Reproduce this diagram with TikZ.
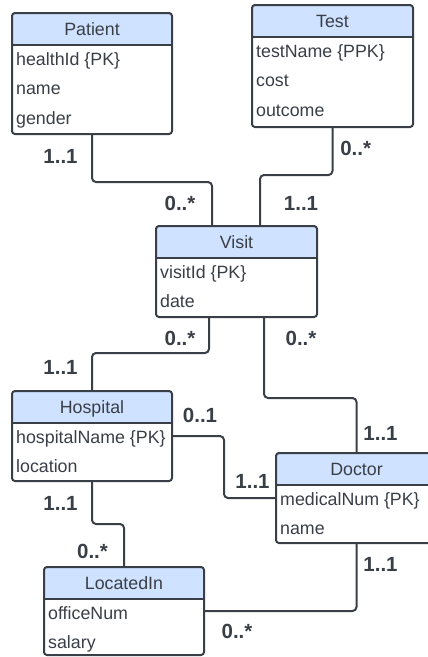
\documentclass[tikz,border=0pt]{standalone}
\usepackage{fontspec}
\setmainfont{Liberation Sans}
\usepackage{tikz}
\usetikzlibrary{positioning,calc}
\definecolor{ink}{HTML}{3A3F47}
\definecolor{headc}{HTML}{CFE2FF}
\tikzset{
  ent/.style={minimum width=160pt,inner sep=0pt,outer sep=0pt,fill=white,anchor=north},
  attr/.style={font=\fontsize{17.8}{20}\selectfont,text=ink,inner sep=0pt,anchor=base west},
  ttl/.style={font=\fontsize{17.8}{20}\selectfont,text=ink,inner sep=0pt,anchor=base},
  card/.style={font=\fontsize{20.5}{22}\selectfont\bfseries,text=ink,inner sep=0pt,anchor=base},
  conn/.style={draw=ink,line width=2pt,rounded corners=4pt},
  frame/.style={draw=ink,line width=2pt,rounded corners=3pt},
}
\begin{document}
\begin{tikzpicture}[x=1pt,y=-1pt]
  \useasboundingbox (0,0) rectangle (428,657);
  \node[ent,minimum height=121pt] (pat) at (92,13) {};
  \node[ent,minimum height=122pt,minimum width=161pt] (tst) at (332.5,5) {};
  \node[ent,minimum height=91pt,minimum width=161pt] (vis) at (236.5,226) {};
  \node[ent,minimum height=90pt] (hos) at (92,391) {};
  \node[ent,minimum height=90pt,minimum width=161pt] (doc) at (356.5,453) {};
  \node[ent,minimum height=88pt] (loc) at (124,567) {};
  \foreach \n in {pat,tst,vis,hos,doc,loc}{
    \begin{scope}
      \clip[rounded corners=3pt] (\n.north west) rectangle (\n.south east);
      \fill[headc] (\n.north west) rectangle ([yshift=-31.5pt]\n.north east);
    \end{scope}
    \draw[frame] (\n.north west) rectangle (\n.south east);
    \draw[draw=ink,line width=2pt] ([yshift=-31.5pt]\n.north west) -- ([yshift=-31.5pt]\n.north east);
  }
  \node[ttl] (pat-t) at ([yshift=-22pt]pat.north) {Patient};
  \node[ttl] (tst-t) at ([yshift=-22pt]tst.north) {Test};
  \node[ttl] (vis-t) at ([yshift=-22pt]vis.north) {Visit};
  \node[ttl] (hos-t) at ([yshift=-22pt]hos.north) {Hospital};
  \node[ttl] (doc-t) at ([yshift=-22pt]doc.north) {Doctor};
  \node[ttl] (loc-t) at ([yshift=-22pt]loc.north) {LocatedIn};
  \foreach \t [count=\i] in {healthId \{PK\},name,gender}
    \node[attr] (pat-\i) at ([xshift=4pt,yshift={-52pt-29.5pt*(\i-1)}]pat.north west) {\t};
  \foreach \t [count=\i] in {testName \{PPK\},cost,outcome}
    \node[attr] (tst-\i) at ([xshift=4pt,yshift={-52pt-29.5pt*(\i-1)}]tst.north west) {\t};
  \foreach \t [count=\i] in {visitId \{PK\},date}
    \node[attr] (vis-\i) at ([xshift=4pt,yshift={-52pt-29.5pt*(\i-1)}]vis.north west) {\t};
  \foreach \t [count=\i] in {hospitalName \{PK\},location}
    \node[attr] (hos-\i) at ([xshift=4pt,yshift={-52pt-29.5pt*(\i-1)}]hos.north west) {\t};
  \foreach \t [count=\i] in {medicalNum \{PK\},name}
    \node[attr] (doc-\i) at ([xshift=4pt,yshift={-52pt-29.5pt*(\i-1)}]doc.north west) {\t};
  \foreach \t [count=\i] in {officeNum,salary}
    \node[attr] (loc-\i) at ([xshift=4pt,yshift={-52pt-29.5pt*(\i-1)}]loc.north west) {\t};
  \draw[conn] (pat.south) -- ++(0,48) -| ([xshift=-24.5pt]vis.north);
  \draw[conn] (tst.south) -- ++(0,48) -| ([xshift=23.5pt]vis.north);
  \draw[conn] ([xshift=-27.5pt]vis.south) -- ++(0,36) -| (hos.north);
  \draw[conn] ([xshift=27.5pt]vis.south) -- ++(0,81) -| (doc.north);
  \draw[conn] (hos.east) -- ++(52,0) |- (doc.west);
  \draw[conn] (hos.south) -- ++(0,43) -| (loc.north);
  \draw[conn] (doc.south) |- (loc.east);
  \node[card] (c1) at (60.5,163) {1..1};
  \node[card] (c2) at (180,210.7) {0..*};
  \node[card] (c3) at (355.7,155) {0..*};
  \node[card] (c4) at (301,210.7) {1..1};
  \node[card] (c5) at (180,345.7) {0..*};
  \node[card] (c6) at (60.5,374) {1..1};
  \node[card] (c7) at (301,345.7) {0..*};
  \node[card] (c8) at (380.5,440.7) {1..1};
  \node[card] (c9) at (200,422.3) {0..1};
  \node[card] (c10) at (252.5,488.3) {1..1};
  \node[card] (c11) at (60.5,510) {1..1};
  \node[card] (c12) at (92.5,558.3) {0..*};
  \node[card] (c13) at (380.5,571.7) {1..1};
  \node[card] (c14) at (237,638.3) {0..*};
\end{tikzpicture}
\end{document}
